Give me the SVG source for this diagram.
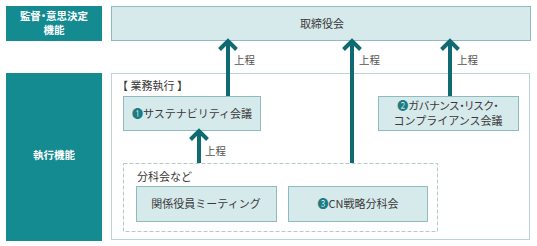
<svg xmlns="http://www.w3.org/2000/svg" width="537" height="246" viewBox="0 0 537 246">
<defs>
<style>
.hdr{fill:#148a91}
.hdrt{fill:#fff;font-family:"Noto Sans CJK JP","Noto Sans",sans-serif;font-size:10.5px;font-weight:bold;text-anchor:middle}
.box{fill:#d6e9eb;stroke:#8dbbbf;stroke-width:1}
.t{fill:#3a3a3a;font-family:"Noto Sans CJK JP","Noto Sans",sans-serif;font-size:11px;text-anchor:middle}
.tl{fill:#3a3a3a;font-family:"Noto Sans CJK JP","Noto Sans",sans-serif;font-size:11px}
.p{font-feature-settings:"palt"}
.lbl{fill:#555;font-family:"Noto Sans CJK JP","Noto Sans",sans-serif;font-size:10.5px}
.num{fill:#1b7c83}
.arr{stroke:#0f6a71;stroke-width:4;fill:none}
</style>
</defs>
<g id="hdr1">
<rect class="hdr" x="6" y="6" width="96" height="35"/>
<text class="hdrt p" x="54" y="20">監督・意思決定</text>
<text class="hdrt" x="54" y="34">機能</text>
</g>
<g id="hdr2">
<rect class="hdr" x="6" y="73" width="96" height="168"/>
<text class="hdrt" x="54" y="159">執行機能</text>
</g>
<g id="board">
<rect class="box" x="111.5" y="6.5" width="419" height="34"/>
<text class="t" x="322" y="28">取締役会</text>
</g>
<g id="exec">
<rect x="111.5" y="73.5" width="418" height="166" fill="#fff" stroke="#b9d6d8"/>
<text class="tl" x="117" y="90">【 業務執行 】</text>
</g>
<g id="sustain">
<rect class="box" x="123.5" y="96.5" width="137" height="34"/>
<text class="t" x="192" y="118"><tspan class="num">❶</tspan>サステナビリティ会議</text>
</g>
<g id="gov">
<rect class="box" x="378.5" y="96.5" width="140" height="34"/>
<text class="t p" x="448" y="110"><tspan class="num">❷</tspan>ガバナンス・リスク・</text>
<text class="t" x="448" y="125">コンプライアンス会議</text>
</g>
<g id="sub">
<rect x="123.5" y="163.5" width="314" height="68" fill="none" stroke="#b5c9cb" stroke-dasharray="4 2"/>
<text class="tl" x="137" y="181">分科会など</text>
</g>
<g id="mtg">
<rect class="box" x="136.5" y="186.5" width="140" height="35"/>
<text class="t" x="206" y="208">関係役員ミーティング</text>
</g>
<g id="cn">
<rect class="box" x="288.5" y="186.5" width="139" height="35"/>
<text class="t" x="358" y="208"><tspan class="num">❸</tspan>CN戦略分科会</text>
</g>
<g id="connectors">
<path class="arr" d="M228 96V41M219.5 49.5L228 41L236.5 49.5"/>
<path class="arr" d="M352 163V41M343.5 49.5L352 41L360.5 49.5"/>
<path class="arr" d="M450 96V41M441.5 49.5L450 41L458.5 49.5"/>
<path class="arr" d="M199 163V131M190.5 139.5L199 131L207.5 139.5"/>
<text class="lbl" x="234" y="64">上程</text>
<text class="lbl" x="359" y="64">上程</text>
<text class="lbl" x="457" y="64">上程</text>
<text class="lbl" x="205" y="155">上程</text>
</g>
</svg>
